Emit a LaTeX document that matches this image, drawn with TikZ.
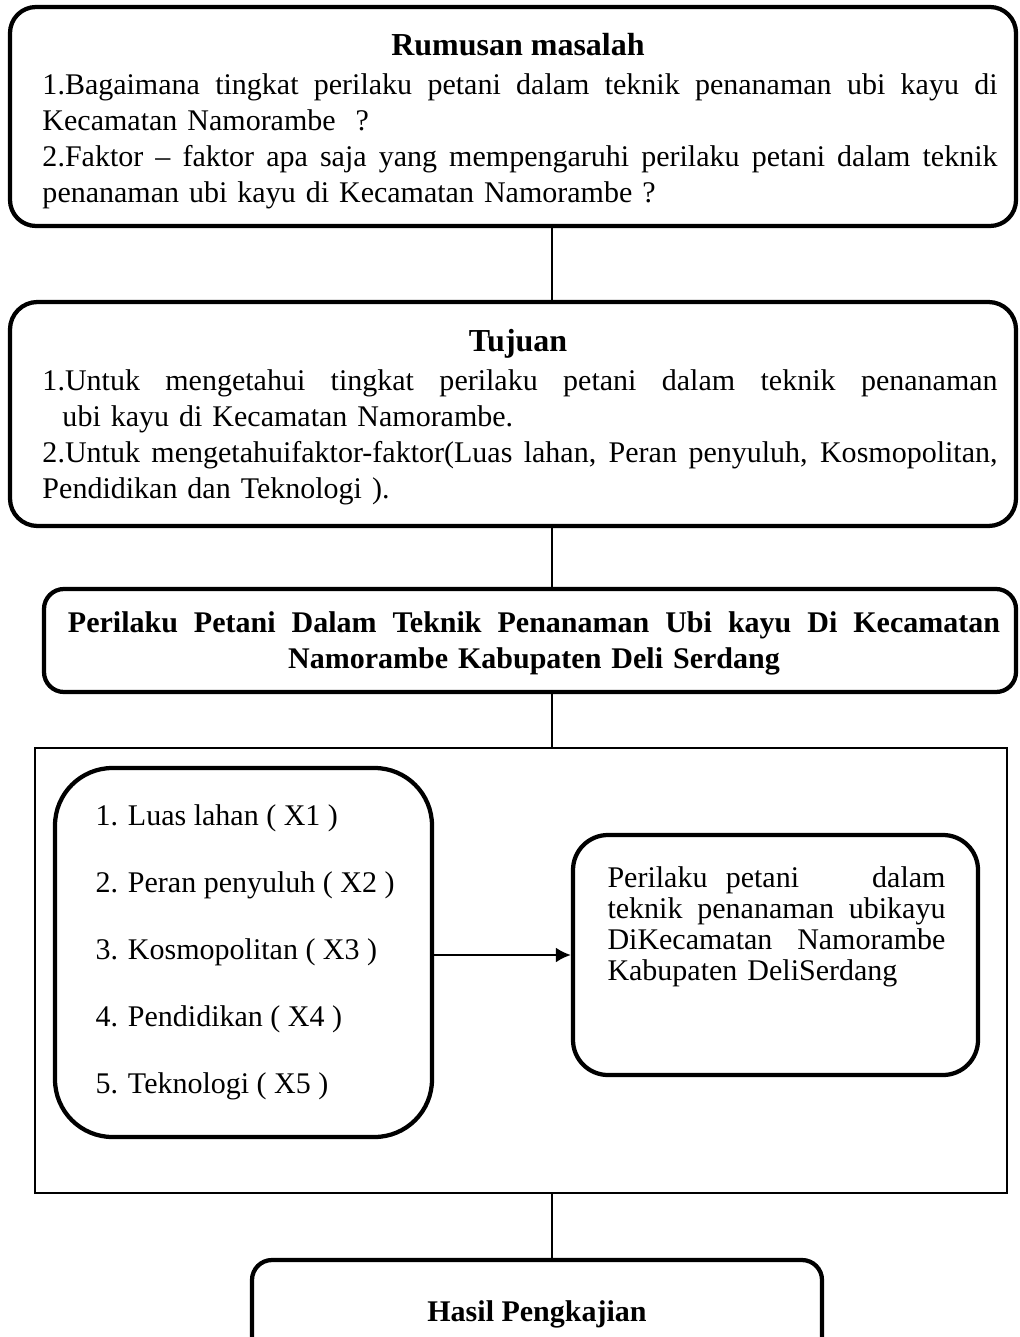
\documentclass[tikz,border=0pt]{standalone}
\usepackage{fontspec}
\setmainfont{Liberation Serif}
\usepackage{tikz}
\usetikzlibrary{arrows.meta}
\setlength{\parindent}{0pt}
\newcommand{\mainsize}{\fontsize{12pt}{14.4pt}\selectfont}
% baris rata kiri-kanan: spasi antarkata ikut melebar
\newcommand{\jline}[2]{\leavevmode{\spaceskip=0.25em plus 1fil\xspaceskip=\spaceskip\hbox to #1{#2}}}
\tikzset{
  rbox/.style={draw,line width=1.7pt,rounded corners=#1,inner sep=0pt},
  boxsize/.style 2 args={minimum width=#1*0.4pt,minimum height=#2*0.4pt},
  link/.style={line width=0.6pt},
  body/.style={font=\mainsize,inner sep=0pt},
  para/.style={body,anchor=north west,align=left,text width=#1},
  headtext/.style={body,font=\mainsize\bfseries,anchor=base}
}

\begin{document}
\begin{tikzpicture}[x=0.4pt,y=-0.4pt]
\useasboundingbox (0,0) rectangle (1019,1337);
\coordinate (spine) at (552,0);

% Kotak-kotak
\node[rbox=10.4pt,boxsize={1006}{219}] (rumusan) at (513,116.5) {};
\node[rbox=11pt,boxsize={1006}{224}] (tujuan) at (513,414) {};
\node[rbox=8pt,boxsize={972}{103}] (perilaku) at (530,640.5) {};
\node[draw,line width=1pt,inner sep=0pt,boxsize={972}{445}] (faktor) at (521,970.5) {};
\node[rbox=23pt,boxsize={377}{369}] (variabel) at (243.5,952.5) {};
\node[rbox=14pt,boxsize={405}{240}] (sasaran) at (775.5,955) {};
\node[rbox=8pt,boxsize={570}{110}] (hasil) at (537,1315) {};

% Rumusan masalah
\node[headtext,font=\fontsize{12.8pt}{14pt}\selectfont\bfseries] (rumusanJudul) at (518,56) {Rumusan masalah};
\node[para=382pt] (rumusanIsi) at (42,73.5) {%
  \jline{382pt}{1.Bagaimana tingkat perilaku petani dalam teknik penanaman ubi kayu di}\\
  Kecamatan Namorambe~ ?\\
  \jline{382pt}{2.Faktor – faktor apa saja yang mempengaruhi perilaku petani dalam teknik}\\
  penanaman ubi kayu di Kecamatan Namorambe ?};

% Tujuan
\node[headtext,font=\fontsize{12.8pt}{14pt}\selectfont\bfseries] (tujuanJudul) at (518,352) {Tujuan};
\node[para=382pt] (tujuanIsi) at (42,369.5) {%
  \jline{382pt}{1.Untuk mengetahui tingkat perilaku petani dalam teknik penanaman}\\
  \hspace*{8pt}ubi kayu di Kecamatan Namorambe.\\
  \jline{382pt}{2.Untuk mengetahuifaktor-faktor(Luas lahan, Peran penyuluh, Kosmopolitan,}\\
  Pendidikan dan Teknologi ).};

% Judul penelitian
\node[body,font=\mainsize\bfseries,anchor=north,align=center,text width=372.8pt]
  (perilakuIsi) at (534,611) {%
  \jline{372.8pt}{Perilaku Petani Dalam Teknik Penanaman Ubi kayu Di Kecamatan}\\
  Namorambe Kabupaten Deli Serdang};

% Variabel X1..X5
\foreach \lab [count=\i] in {{1. Luas lahan ( X1 )},{2. Peran penyuluh ( X2 )},%
  {3. Kosmopolitan ( X3 )},{4. Pendidikan ( X4 )},{5. Teknologi ( X5 )}}{%
  \node[body,anchor=base west] (x\i) at (95,{825+(\i-1)*67}) {\lab};
}

% Variabel Y
\node[para=135.2pt,font=\fontsize{12pt}{12.4pt}\selectfont] (sasaranIsi) at (607,866.5) {%
  \jline{135.2pt}{Perilaku petani\ \ \ \ dalam}\\
  \jline{135.2pt}{teknik penanaman ubikayu}\\
  \jline{135.2pt}{DiKecamatan Namorambe}\\
  Kabupaten DeliSerdang};

\node[headtext] (hasilJudul) at (537,1321) {Hasil Pengkajian};

% Garis penghubung
\draw[link] (rumusan.south -| spine) -- (tujuan.north -| spine);
\draw[link] (tujuan.south -| spine) -- (perilaku.north -| spine);
\draw[link] (perilaku.south -| spine) -- (faktor.north -| spine);
\draw[link] (faktor.south -| spine) -- (hasil.north -| spine);
\draw[line width=1pt,-{Latex[length=6pt,width=6pt]}] (variabel.east |- sasaran.west) -- (sasaran.west);
\end{tikzpicture}
\end{document}
